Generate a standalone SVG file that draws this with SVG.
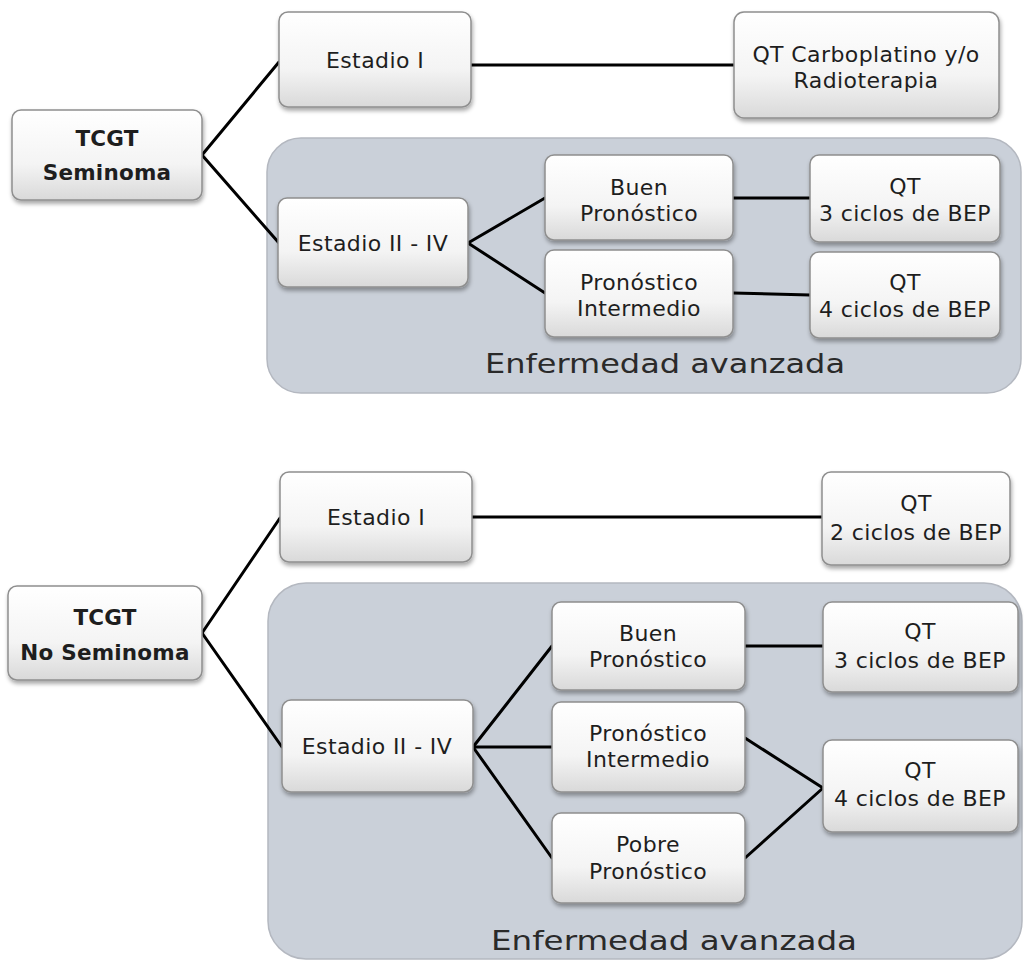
<svg xmlns="http://www.w3.org/2000/svg" width="1024" height="962" viewBox="0 0 1024 962">
<style>
.box{fill:url(#bx);stroke:#8f8f8f;stroke-width:1.5;filter:url(#sh)}
.t{font-family:"DejaVu Sans","Liberation Sans",sans-serif;font-size:22px;letter-spacing:0.4px;fill:#1e1e1e;text-anchor:middle}
.b{font-weight:bold;font-size:21.5px;letter-spacing:0.2px}
.panel{fill:#cad0d9;stroke:#b4b8c0;stroke-width:1.5}
.lbl{font-family:"DejaVu Sans","Liberation Sans",sans-serif;font-size:27px;fill:#2a2a2a;text-anchor:middle}
.c line{stroke:#000;stroke-width:3;stroke-linecap:round}
</style>
<defs>
<linearGradient id="bx" x1="0" y1="0" x2="0" y2="1">
<stop offset="0" stop-color="#ffffff"/>
<stop offset="0.6" stop-color="#f4f4f4"/>
<stop offset="1" stop-color="#d9d9d9"/>
</linearGradient>
<filter id="sh" x="-10%" y="-10%" width="120%" height="130%">
<feDropShadow dx="1" dy="3" stdDeviation="2" flood-color="#000" flood-opacity="0.35"/>
</filter>
</defs>
<rect width="1024" height="962" fill="#fff"/>
<g id="panel1"><rect class="panel" x="267" y="138" width="754" height="255" rx="34"/>
<text class="lbl" x="665" y="373" textLength="360" lengthAdjust="spacingAndGlyphs">Enfermedad avanzada</text></g>
<g id="panel2"><rect class="panel" x="268" y="583" width="754" height="376" rx="38"/>
<text class="lbl" x="674" y="950" textLength="366" lengthAdjust="spacingAndGlyphs">Enfermedad avanzada</text></g>
<g class="c" id="connectors">
<line x1="202" y1="155" x2="279" y2="62"/>
<line x1="202" y1="155" x2="279" y2="243"/>
<line x1="471" y1="65" x2="734" y2="65"/>
<line x1="468" y1="243" x2="545" y2="198"/>
<line x1="468" y1="243" x2="545" y2="293"/>
<line x1="733" y1="198" x2="810" y2="198"/>
<line x1="733" y1="293" x2="810" y2="295"/>
<line x1="202" y1="633" x2="280" y2="518"/>
<line x1="202" y1="633" x2="282" y2="747"/>
<line x1="472" y1="517" x2="822" y2="517"/>
<line x1="473" y1="747" x2="552" y2="646"/>
<line x1="473" y1="747" x2="552" y2="747"/>
<line x1="473" y1="747" x2="552" y2="858"/>
<line x1="745" y1="646" x2="823" y2="646"/>
<line x1="745" y1="738" x2="823" y2="788"/>
<line x1="745" y1="858" x2="823" y2="788"/>
</g>
<g id="tcgt-s"><rect class="box" x="12" y="110" width="190" height="90" rx="9"/>
<text class="t b" x="107" y="146">TCGT</text><text class="t b" x="107" y="180">Seminoma</text></g>
<g id="estadio1-s"><rect class="box" x="279" y="12" width="192" height="95" rx="9"/>
<text class="t" x="375" y="68">Estadio I</text></g>
<g id="qtcarbo"><rect class="box" x="734" y="12" width="265" height="106" rx="10"/>
<text class="t" x="866" y="62">QT Carboplatino y/o</text><text class="t" x="866" y="88">Radioterapia</text></g>
<g id="estadio2-s"><rect class="box" x="278" y="198" width="190" height="89" rx="9"/>
<text class="t" x="373" y="251">Estadio II - IV</text></g>
<g id="buen-s"><rect class="box" x="545" y="155" width="188" height="85" rx="9"/>
<text class="t" x="639" y="195">Buen</text><text class="t" x="639" y="221">Pronóstico</text></g>
<g id="inter-s"><rect class="box" x="545" y="250" width="188" height="87" rx="9"/>
<text class="t" x="639" y="290">Pronóstico</text><text class="t" x="639" y="316">Intermedio</text></g>
<g id="qt3-s"><rect class="box" x="810" y="155" width="190" height="87" rx="9"/>
<text class="t" x="905" y="194">QT</text><text class="t" x="905" y="221">3 ciclos de BEP</text></g>
<g id="qt4-s"><rect class="box" x="810" y="252" width="190" height="86" rx="9"/>
<text class="t" x="905" y="290">QT</text><text class="t" x="905" y="317">4 ciclos de BEP</text></g>
<g id="tcgt-ns"><rect class="box" x="8" y="586" width="194" height="94" rx="9"/>
<text class="t b" x="105" y="625">TCGT</text><text class="t b" x="105" y="660">No Seminoma</text></g>
<g id="estadio1-ns"><rect class="box" x="280" y="472" width="192" height="90" rx="9"/>
<text class="t" x="376" y="525">Estadio I</text></g>
<g id="qt2-ns"><rect class="box" x="822" y="472" width="188" height="93" rx="9"/>
<text class="t" x="916" y="511">QT</text><text class="t" x="916" y="540">2 ciclos de BEP</text></g>
<g id="estadio2-ns"><rect class="box" x="282" y="700" width="191" height="92" rx="9"/>
<text class="t" x="377" y="754">Estadio II - IV</text></g>
<g id="buen-ns"><rect class="box" x="552" y="602" width="193" height="88" rx="9"/>
<text class="t" x="648" y="641">Buen</text><text class="t" x="648" y="667">Pronóstico</text></g>
<g id="inter-ns"><rect class="box" x="552" y="702" width="193" height="90" rx="9"/>
<text class="t" x="648" y="741">Pronóstico</text><text class="t" x="648" y="767">Intermedio</text></g>
<g id="pobre-ns"><rect class="box" x="552" y="813" width="193" height="90" rx="9"/>
<text class="t" x="648" y="852">Pobre</text><text class="t" x="648" y="879">Pronóstico</text></g>
<g id="qt3-ns"><rect class="box" x="823" y="602" width="195" height="90" rx="9"/>
<text class="t" x="920" y="639">QT</text><text class="t" x="920" y="668">3 ciclos de BEP</text></g>
<g id="qt4-ns"><rect class="box" x="823" y="740" width="195" height="92" rx="9"/>
<text class="t" x="920" y="778">QT</text><text class="t" x="920" y="806">4 ciclos de BEP</text></g>
</svg>
